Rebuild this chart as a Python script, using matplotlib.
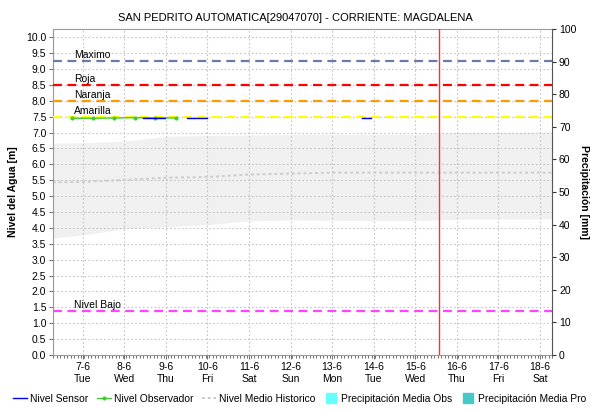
import matplotlib
matplotlib.use("Agg")
import matplotlib.pyplot as plt
import matplotlib.dates as mdates
from matplotlib.lines import Line2D
import numpy as np
import pandas as pd

# threshold levels [m]
levels = ["Maximo", "Roja", "Naranja", "Amarilla", "Nivel Bajo"]
level_values = [9.25, 8.5, 8.0, 7.5, 1.4]
level_colors = ["#6b7aa6", "#ff0000", "#ff9900", "#ffff00", "#ff44ff"]

# historic envelope and mean (daily)
hist_dates = pd.date_range("2022-06-06", "2022-06-19", freq="D")
hist_upper = [6.66, 6.68, 6.73, 6.88, 6.91, 6.92, 6.94, 6.94, 6.94, 6.95, 7.00, 7.01, 7.02, 7.02]
hist_lower = [3.64, 3.78, 3.97, 4.04, 4.10, 4.22, 4.25, 4.24, 4.23, 4.23, 4.27, 4.28, 4.28, 4.29]
hist_mean = [5.43, 5.45, 5.51, 5.58, 5.60, 5.68, 5.71, 5.74, 5.74, 5.74, 5.74, 5.74, 5.74, 5.74]

# sensor readings (NaN = gap)
sensor_times = ["2022-06-08 10:50", "2022-06-08 23:30", "2022-06-09 06:00",
                "2022-06-09 12:15", "2022-06-09 23:45", "2022-06-11 00:00",
                "2022-06-13 17:20", "2022-06-13 22:30"]
sensor_values = [7.46, 7.46, np.nan, 7.46, 7.46, np.nan, 7.45, 7.45]

# observer readings
obs_times = ["2022-06-06 18:00", "2022-06-07 06:00", "2022-06-07 18:00",
             "2022-06-08 06:00", "2022-06-08 18:00", "2022-06-09 06:00"]
obs_values = [7.45, 7.45, 7.46, 7.47, 7.46, 7.46]

now_time = "2022-06-15 13:30"

plt.rcParams["font.family"] = ["Liberation Sans", "DejaVu Sans"]
plt.rcParams["font.size"] = 7.5

fig = plt.figure(figsize=(5.9, 4.11), dpi=100)
ax = fig.add_axes([0.0903, 0.1363, 0.8453, 0.7931])

grid_kw = dict(color="#c4c4c4", linestyle=(0, (1.5, 2)), linewidth=0.8, zorder=1)

ax.fill_between(hist_dates, hist_lower, hist_upper, color="#f0f0f0", lw=0, zorder=0)
ax.plot(hist_dates, hist_mean, color="#cccccc", linestyle=(0, (1.5, 1.5)), lw=1.4, zorder=2)

for name, val, col in zip(levels, level_values, level_colors):
    ax.axhline(val, color=col, linestyle=(0, (4, 2.5)), lw=1.6, zorder=3)
    ax.text(0.042, val + 0.03, name, transform=ax.get_yaxis_transform(),
            fontsize=7.5, va="bottom", ha="left", zorder=5)

ax.plot(pd.to_datetime(obs_times), obs_values, color="#44cc33", lw=1.0,
        marker="o", markersize=2.0, zorder=4)
ax.plot(pd.to_datetime(sensor_times), sensor_values, color="#0000ee", lw=1.0, zorder=4)

ax.axvline(pd.Timestamp(now_time), color="#ff3030", lw=1.0, zorder=5)

ax.set_xlim(pd.Timestamp("2022-06-06 07:00"), pd.Timestamp("2022-06-18 07:00"))
ax.set_ylim(0, 10.26)
ax.set_yticks(np.arange(0, 10.01, 0.5))
ax.yaxis.set_major_formatter(matplotlib.ticker.FormatStrFormatter("%.1f"))

day_ticks = pd.date_range("2022-06-07", "2022-06-18", freq="D")
ax.set_xticks(day_ticks)
ax.set_xticklabels([f"{d.day}-{d.month}\n{d.strftime('%a')}" for d in day_ticks])
ax.xaxis.set_minor_locator(mdates.HourLocator(interval=2))
ax.tick_params(axis="x", which="minor", length=2, color="#555555", width=0.6)
ax.tick_params(axis="both", which="major", length=3, color="#777777", width=0.8, pad=2)

for x in day_ticks:
    ax.axvline(x, **grid_kw)
for y in np.arange(0.5, 10.01, 0.5):
    ax.axhline(y, **grid_kw)

for side in ["top", "left", "bottom"]:
    ax.spines[side].set_color("#999999")
ax.spines["right"].set_visible(False)

ax.set_ylabel("Nivel del Agua [m]", fontweight="bold", fontsize=7.5, labelpad=6)

ax2 = ax.twinx()
ax2.set_ylim(0, 100)
ax2.set_yticks(range(0, 101, 10))
ax2.tick_params(axis="y", length=3, color="#333333", width=0.8, pad=2)
for side in ["top", "left", "bottom"]:
    ax2.spines[side].set_visible(False)
ax2.spines["right"].set_color("#555555")
ax2.set_ylabel("Precipitación [mm]", rotation=-90, fontweight="bold", fontsize=7.5,
               labelpad=9)

fig.suptitle("SAN PEDRITO AUTOMATICA[29047070] - CORRIENTE: MAGDALENA",
             fontsize=8, y=0.968)

handles = [
    Line2D([], [], color="#0000ee", lw=1.0),
    Line2D([], [], color="#44cc33", lw=1.0, marker="o", markersize=2.0),
    Line2D([], [], color="#cccccc", lw=1.4, linestyle=(0, (1.5, 1.5))),
    Line2D([], [], color="#66ffff", lw=0, marker="s", markersize=7),
    Line2D([], [], color="#44c8c8", lw=0, marker="s", markersize=7),
]
names = ["Nivel Sensor", "Nivel Observador", "Nivel Medio Historico",
         "Precipitación Media Obs", "Precipitación Media Pro"]
fig.legend(handles, names, loc="center", bbox_to_anchor=(0.508, 0.03), ncol=5,
           frameon=False, fontsize=7.4, handlelength=1.4, handletextpad=0.3,
           columnspacing=0.8)

fig.savefig("out.png", dpi=100)
